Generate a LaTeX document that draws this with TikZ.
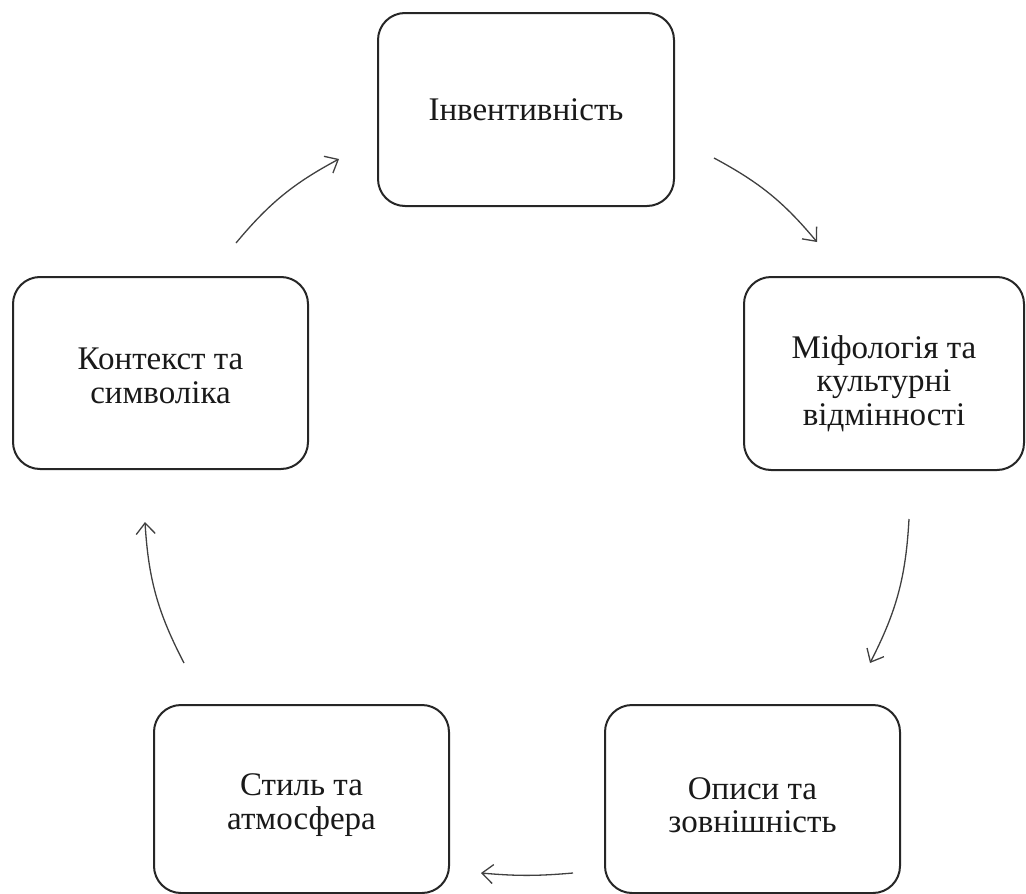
\documentclass[tikz,border=0pt]{standalone}
\usepackage{fontspec}
\setmainfont{Liberation Serif}
\usetikzlibrary{arrows.meta}
\begin{document}
\begin{tikzpicture}[x=1pt,y=-1pt,
  cyclebox/.style={draw=black!85, line width=2pt, rounded corners=27pt, fill=white, inner sep=0pt},
  boxtext/.style={align=center, inner sep=0pt, text=black!90, font=\fontsize{33}{33.5}\selectfont},
  cyclearrow/.style={draw=black!75, line width=1.3pt, -{Straight Barb[length=11pt,width=19pt,line width=1.3pt]}}]
\useasboundingbox (0,0) rectangle (1026,894);
\node[cyclebox, minimum width=296pt, minimum height=193pt] (top) at (526,109.5) {};
\node[cyclebox, minimum width=280pt, minimum height=193pt] (right) at (884,373.5) {};
\node[cyclebox, minimum width=295pt, minimum height=188pt] (br) at (752.5,799) {};
\node[cyclebox, minimum width=295pt, minimum height=188pt] (bl) at (301.5,799) {};
\node[cyclebox, minimum width=295pt, minimum height=192pt] (left) at (160.5,373) {};
\node[boxtext] (toptext) at ([yshift=0pt]top.center) {Інвентивність};
\node[boxtext] (righttext) at ([yshift=-10pt]right.center) {Міфологія та\\культурні\\відмінності};
\node[boxtext] (brtext) at ([yshift=-6pt]br.center) {Описи та\\зовнішність};
\node[boxtext] (bltext) at ([yshift=-6pt]bl.center) {Стиль та\\атмосфера};
\node[boxtext] (lefttext) at ([yshift=-3pt]left.center) {Контекст та\\символіка};
\coordinate (a1s) at (714,158); \coordinate (a1e) at (817,242);
\coordinate (a2s) at (909,519); \coordinate (a2e) at (870,663);
\coordinate (a3s) at (573,873); \coordinate (a3e) at (481,873);
\coordinate (a4s) at (184,663); \coordinate (a4e) at (145,522);
\coordinate (a5s) at (236,243); \coordinate (a5e) at (339,159);
\draw[cyclearrow] (a1s) to[bend left=11] (a1e);
\draw[cyclearrow] (a2s) to[bend left=12] (a2e);
\draw[cyclearrow] (a3s) to[bend left=5] (a3e);
\draw[cyclearrow] (a4s) to[bend left=12] (a4e);
\draw[cyclearrow] (a5s) to[bend left=11] (a5e);
\end{tikzpicture}
\end{document}
